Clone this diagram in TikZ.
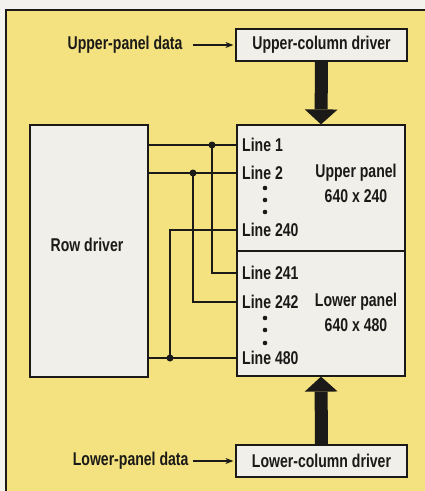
\documentclass[tikz,border=0pt]{standalone}
\usepackage{fontspec}
\setmainfont{Liberation Sans}[FakeStretch=0.76]
\usetikzlibrary{arrows.meta,calc}
\definecolor{paper}{HTML}{F4F2EC}
\definecolor{bgyellow}{HTML}{F3E27F}
\definecolor{boxfill}{HTML}{F1EFEA}
\definecolor{ink}{HTML}{1C1A18}
\begin{document}
\begin{tikzpicture}[x=1pt,y=-1pt,
  every node/.style={font=\fontsize{18.5}{25}\selectfont\bfseries, text=ink},
  box/.style={draw=ink, line width=1.2pt, fill=boxfill, inner sep=0pt},
  lbl/.style={inner sep=0pt, text height=13.2pt, text depth=0pt},
  wire/.style={draw=ink, line width=1.1pt},
  jdot/.style={circle, fill=ink, inner sep=0pt, minimum size=7pt},
  thinarrow/.style={wire, -{Stealth[length=8pt,width=6pt]}, shorten >=2pt},
  fatarrow/.style={draw=ink, line width=13pt, -{Triangle[length=15pt,width=33pt,line width=0pt]}}]
\useasboundingbox (0,0) rectangle (425,491);
\fill[paper] (0,0) rectangle (425,491);
\fill[bgyellow] (6,10) rectangle (425,491);
\draw[ink, line width=1.6pt] (6,491) -- (6,10) -- (425,10);

% boxes
\node[box, minimum width=171pt, minimum height=32pt] (ucd) at (321.5,45) {Upper-column driver};
\node[box, minimum width=171pt, minimum height=32pt] (lcd) at (321.5,461) {Lower-column driver};
\node[box, minimum width=168pt, minimum height=126pt] (up) at (321,188) {};
\node[box, minimum width=168pt, minimum height=125pt] (lo) at (321,313.5) {};
\node[box, minimum width=118pt, minimum height=252pt] (row) at (89,251) {};
\node (rowt) at (87,245) {Row driver};

% panel texts
\node[align=center] (upt) at (356,183) {Upper panel\\640 x 240};
\node[align=center] (lot) at (356,312) {Lower panel\\640 x 480};

% line labels
\node[lbl, anchor=west] (l1) at (242,145) {Line 1};
\node[lbl, anchor=west] (l2) at (242,173) {Line 2};
\node[lbl, anchor=west] (l240) at (242,230) {Line 240};
\node[lbl, anchor=west] (l241) at (242,273) {Line 241};
\node[lbl, anchor=west] (l242) at (242,302) {Line 242};
\node[lbl, anchor=west] (l480) at (242,358) {Line 480};

% vertical ellipses
\foreach \yy in {188,200,212,318,330,343}
  \fill[ink] (265,\yy) circle (2.3pt);

% data inputs
\node[anchor=east] (upd) at (186,45) {Upper-panel data};
\node[anchor=east] (lpd) at (192,461) {Lower-panel data};
\draw[thinarrow] ([xshift=7pt]upd.east) -- (ucd.west);
\draw[thinarrow] ([xshift=1pt]lpd.east) -- (lcd.west);

% fat arrows
\draw[fatarrow] (ucd.south) -- (up.north);
\draw[fatarrow] (lcd.north) -- (lo.south);

% wiring
\coordinate (j1) at (212,145);
\coordinate (j2) at (193,173);
\coordinate (j3) at (170,358);
\draw[wire] (row.east |- l1) -- (up.west |- l1);
\draw[wire] (row.east |- l2) -- (up.west |- l2);
\draw[wire] (j1) -- (j1 |- l241) -- (lo.west |- l241);
\draw[wire] (j2) -- (j2 |- l242) -- (lo.west |- l242);
\draw[wire] (up.west |- l240) -- (j3 |- l240) -- (j3);
\draw[wire] (row.east |- l480) -- (lo.west |- l480);
\node[jdot] (d1) at (j1) {};
\node[jdot] (d2) at (j2) {};
\node[jdot] (d3) at (j3) {};
\end{tikzpicture}
\end{document}
